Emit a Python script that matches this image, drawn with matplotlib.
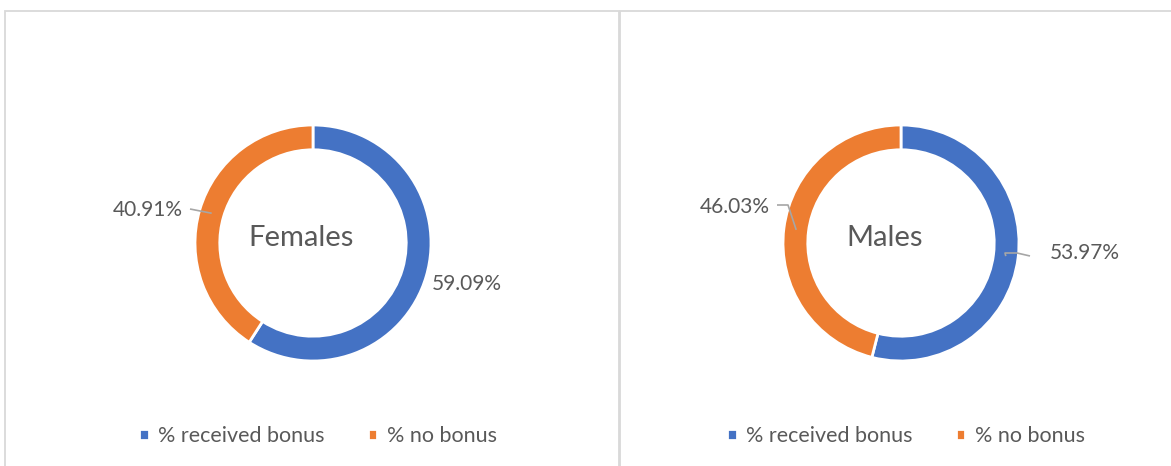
import numpy as np
import matplotlib
matplotlib.use('Agg')
import matplotlib.pyplot as plt
from matplotlib.patches import Rectangle

# data
groups = ['Females', 'Males']
categories = ['% received bonus', '% no bonus']
received = [59.09, 53.97]
no_bonus = [40.91, 46.03]
colors = ['#4472C4', '#ED7D31']

W, H = 1171, 466
plt.rcParams['font.family'] = ['Lato', 'DejaVu Sans']
text_color = '#595959'
grid_color = '#D9D9D9'

fig = plt.figure(figsize=(W / 100, H / 100), dpi=100)
fig.patch.set_facecolor('white')

# panel frames (chart area borders)
fig.patches.append(Rectangle((5 / W, -0.1), 614 / W, 1.1 - 10.5 / H, transform=fig.transFigure,
                             fill=False, edgecolor=grid_color, linewidth=1.3))
fig.patches.append(Rectangle((620 / W, -0.1), 0.6, 1.1 - 10.5 / H, transform=fig.transFigure,
                             fill=False, edgecolor=grid_color, linewidth=1.3))

R = 118.0          # outer radius in px
centers = [(313, 243), (901, 243)]
aw, ah = 500, 400  # axes size in px

# label placement (px offsets from centre: x right, y up) and alignment
label_pos = [
    [((119, -41), 'left'), ((-130, 33), 'right')],
    [((149, -10), 'left'), ((-131, 36), 'right')],
]
title_dx = [-12, -16]
# leader lines: px offsets from the label side toward the wedge (None = no leader)
leaders = [
    [None, [(-123, 34)]],
    [[(129, -13), (116, -10), (104, -10)], [(-124, 38), (-113, 38)]],
]

for i, g in enumerate(groups):
    cx, cy = centers[i]
    ax = fig.add_axes([(cx - aw / 2) / W, 1 - (cy + ah / 2) / H, aw / W, ah / H])
    ax.axis('off')

    vals = [received[i], no_bonus[i]]
    wedges, _ = ax.pie(vals, colors=colors, startangle=90, counterclock=False, radius=1.0,
                       wedgeprops=dict(width=0.21, edgecolor='white', linewidth=2))
    ax.set_xlim(-aw / 2 / R, aw / 2 / R)
    ax.set_ylim(-ah / 2 / R, ah / 2 / R)
    ax.set_aspect('equal')

    ax.text(title_dx[i] / R, 0.04, g, ha='center', va='center', fontsize=21, color=text_color)

    start = 90.0
    for j, v in enumerate(vals):
        sweep = v / 100 * 360
        mid = np.deg2rad(start - sweep / 2)
        start -= sweep
        (lx, ly), ha = label_pos[i][j]
        ax.text(lx / R, ly / R, f'{v:.2f}%', ha=ha, va='center', fontsize=15,
                color=text_color)
        if leaders[i][j] is not None:
            pts = [(x / R, y / R) for x, y in leaders[i][j]]
            pts.append((0.895 * np.cos(mid), 0.895 * np.sin(mid)))
            xs, ys = zip(*pts)
            ax.plot(xs, ys, color='#A6A6A6', linewidth=1.2, solid_capstyle='butt', clip_on=False)

    lx = (cx + 5) / W
    fig.legend(wedges, categories, loc='center', bbox_to_anchor=(lx, 1 - 436 / H), ncol=2,
               frameon=False, fontsize=15.5, labelcolor=text_color, handlelength=0.45,
               handleheight=0.45, handletextpad=0.45, columnspacing=2.0)

fig.savefig('out.png', dpi=100, facecolor='white')
